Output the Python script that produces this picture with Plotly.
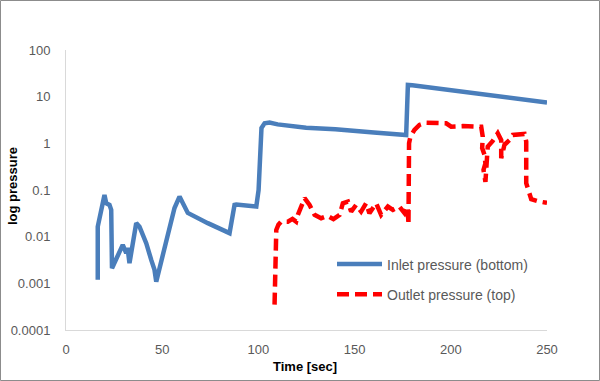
import plotly.graph_objects as go

# ---------------- data ----------------
inlet_time = [16.5, 16.5, 20.0, 20.9, 22.6, 23.5, 23.9, 26.1, 29.5, 31.3, 32.0, 33.0,
              36.5, 38.2, 41.7, 44.3, 46.0, 46.9, 55.5, 56.4, 59.0, 63.3, 73.7, 85.0,
              87.6, 88.5, 98.9, 100.1, 101.6, 103.2, 105.8, 110.0, 124.8, 140.0, 160.0,
              176.8, 177.7, 180.0, 250.0]
inlet_pressure = [0.00119, 0.0164, 0.0785, 0.052, 0.048, 0.0375, 0.00211, 0.00318,
                  0.00667, 0.00444, 0.00575, 0.00271, 0.0195, 0.0164, 0.00726, 0.00318,
                  0.00195, 0.00109, 0.0345, 0.0412, 0.0722, 0.0323, 0.0195, 0.0119,
                  0.048, 0.049, 0.0441, 0.1, 2.14, 2.69, 2.78, 2.55, 2.15, 2.0, 1.7,
                  1.51, 17.8, 17.5, 7.5]

outlet_time = [108.4, 109.0, 109.3, 110.4, 111.8, 115.3, 117.7, 119.6, 120.5, 124.0,
               126.6, 129.2, 132.6, 135.9, 139.0, 142.2, 143.9, 146.5, 148.2, 150.8,
               153.4, 156.0, 157.7, 161.2, 163.8, 167.3, 169.9, 173.3, 176.0, 177.6,
               178.0, 178.3, 179.0, 181.1, 183.7, 187.2, 193.2, 197.6, 200.2, 206.2,
               214.0, 215.8, 216.6, 216.3, 217.5, 218.0, 217.0, 218.0, 219.2, 221.8,
               224.4, 226.2, 226.2, 227.9, 230.5, 232.2, 238.3, 239.2, 239.2, 240.5,
               241.8, 246.1, 250.0]
outlet_pressure = [0.00035, 0.008, 0.014, 0.018, 0.021, 0.021, 0.024, 0.021, 0.0293,
                   0.0667, 0.048, 0.0293, 0.0249, 0.0279, 0.0237, 0.0293, 0.052, 0.0565,
                   0.0345, 0.048, 0.0345, 0.052, 0.0318, 0.052, 0.0293, 0.0441, 0.0375,
                   0.0441, 0.0318, 0.0441, 0.018, 1.0, 1.39, 1.94, 2.48, 2.77, 2.77,
                   2.69, 2.28, 2.34, 2.28, 2.28, 1.39, 0.79, 0.57, 0.37, 0.27, 0.15,
                   0.85, 1.13, 1.64, 1.17, 0.48, 0.93, 1.17, 1.51, 1.59, 1.09, 0.14,
                   0.085, 0.0636, 0.0565, 0.053]

y_tick_values = [0.0001, 0.001, 0.01, 0.1, 1, 10, 100]
y_tick_labels = ["0.0001", "0.001", "0.01", "0.1", "1", "10", "100"]
x_tick_values = [0, 50, 100, 150, 200, 250]

FONT = "Liberation Sans"
TXT = "#595959"

fig = go.Figure()
fig.add_trace(go.Scatter(
    x=inlet_time, y=inlet_pressure, mode="lines",
    name="Inlet pressure (bottom)", legendgroup="a",
    line=dict(color="#4a7ebb", width=4.5),
))
fig.add_trace(go.Scatter(
    x=outlet_time, y=outlet_pressure, mode="lines",
    name="Outlet pressure (top)", legendgroup="b",
    line=dict(color="#ff0000", width=4.5, dash="12px,6px"),
))

L, R, T, B = 66, 53, 50, 51
W, H = 600, 381
pw, ph = W - L - R, H - T - B

fig.update_layout(
    width=W, height=H,
    margin=dict(l=L, r=R, t=T, b=B),
    paper_bgcolor="white", plot_bgcolor="white",
    font=dict(family=FONT, size=13, color=TXT),
    showlegend=True,
    legend=dict(
        x=(332 - L) / pw, y=(330 - 248.5) / ph, xanchor="left", yanchor="top",
        bgcolor="rgba(0,0,0,0)", borderwidth=0,
        font=dict(family=FONT, size=14, color=TXT),
        tracegroupgap=9, itemwidth=45,
    ),
    xaxis=dict(
        range=[0, 250], tickvals=x_tick_values, showgrid=False, zeroline=False,
        showline=True, linecolor="#d9d9d9", linewidth=1, ticks="",
        tickfont=dict(family=FONT, size=13, color=TXT), ticklabelstandoff=7,
    ),
    yaxis=dict(
        type="log", range=[-4, 2], tickvals=y_tick_values, ticktext=y_tick_labels,
        showgrid=False, zeroline=False, showline=True, linecolor="#d9d9d9",
        linewidth=1, ticks="", tickfont=dict(family=FONT, size=13, color=TXT),
        ticklabelstandoff=12,
    ),
    annotations=[
        dict(text="<b>Time [sec]</b>", xref="paper", yref="paper",
             x=(305 - L) / pw, y=(330 - 366.7) / ph, xanchor="center", yanchor="middle",
             showarrow=False, font=dict(family=FONT, size=13, color="#000000")),
        dict(text="<b>log pressure</b>", xref="paper", yref="paper", textangle=-90,
             x=(12 - L) / pw, y=(330 - 186) / ph, xanchor="center", yanchor="middle",
             showarrow=False, font=dict(family=FONT, size=13, color="#000000")),
    ],
    shapes=[
        dict(type="rect", xref="paper", yref="paper",
             x0=(0.5 - L) / pw, x1=(W - 0.5 - L) / pw,
             y0=(330 - (H - 0.5)) / ph, y1=(330 - 0.5) / ph,
             line=dict(color="#8c8c8c", width=1), fillcolor="rgba(0,0,0,0)"),
    ],
)

fig.write_html(
    "out.html",
    config={"displayModeBar": False},
    post_script="document.body.style.margin='0';document.body.style.overflow='hidden';",
)
